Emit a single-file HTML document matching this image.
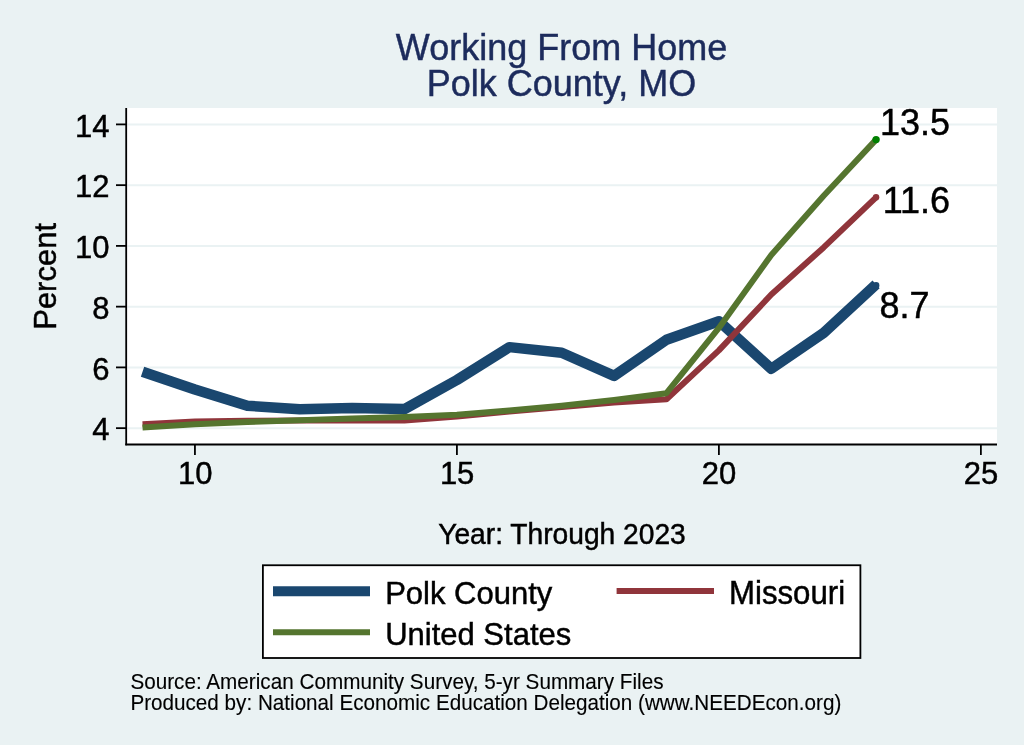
<!DOCTYPE html>
<html><head><meta charset="utf-8"><style>
html,body{margin:0;padding:0;background:#eaf2f3;width:1024px;height:745px;overflow:hidden}
svg{display:block;will-change:transform}
text{font-family:"Liberation Sans",sans-serif;stroke:currentColor;stroke-width:0.45px}
.fn text{stroke-width:0.12px}
</style></head><body>
<svg width="1024" height="745" viewBox="0 0 1024 745">
<rect width="1024" height="745" fill="#eaf2f3"/>
<rect x="126" y="108" width="871" height="336.5" fill="#fff"/>
<line x1="127.5" x2="997" y1="428.15" y2="428.15" stroke="#eaf2f3" stroke-width="2"/><line x1="127.5" x2="997" y1="367.40" y2="367.40" stroke="#eaf2f3" stroke-width="2"/><line x1="127.5" x2="997" y1="306.65" y2="306.65" stroke="#eaf2f3" stroke-width="2"/><line x1="127.5" x2="997" y1="245.90" y2="245.90" stroke="#eaf2f3" stroke-width="2"/><line x1="127.5" x2="997" y1="185.15" y2="185.15" stroke="#eaf2f3" stroke-width="2"/><line x1="127.5" x2="997" y1="124.40" y2="124.40" stroke="#eaf2f3" stroke-width="2"/>
<g fill="#1c2b5c" color="#1c2b5c">
<text transform="translate(561.5,60) scale(1,1.04)" font-size="36" text-anchor="middle">Working From Home</text>
<text transform="translate(561.5,96) scale(1,1.04)" font-size="36" text-anchor="middle">Polk County, MO</text>
</g>
<g fill="#000">
<line x1="116" x2="126" y1="428.15" y2="428.15" stroke="#000" stroke-width="1.8"/><line x1="116" x2="126" y1="367.40" y2="367.40" stroke="#000" stroke-width="1.8"/><line x1="116" x2="126" y1="306.65" y2="306.65" stroke="#000" stroke-width="1.8"/><line x1="116" x2="126" y1="245.90" y2="245.90" stroke="#000" stroke-width="1.8"/><line x1="116" x2="126" y1="185.15" y2="185.15" stroke="#000" stroke-width="1.8"/><line x1="116" x2="126" y1="124.40" y2="124.40" stroke="#000" stroke-width="1.8"/><text transform="translate(109.6,440.25) scale(1,1.04)" font-size="31" text-anchor="end">4</text><text transform="translate(109.6,379.50) scale(1,1.04)" font-size="31" text-anchor="end">6</text><text transform="translate(109.6,318.75) scale(1,1.04)" font-size="31" text-anchor="end">8</text><text transform="translate(109.6,258.00) scale(1,1.04)" font-size="31" text-anchor="end">10</text><text transform="translate(109.6,197.25) scale(1,1.04)" font-size="31" text-anchor="end">12</text><text transform="translate(109.6,136.50) scale(1,1.04)" font-size="31" text-anchor="end">14</text>
<line x1="194.93" x2="194.93" y1="444" y2="455" stroke="#000" stroke-width="1.8"/><line x1="456.91" x2="456.91" y1="444" y2="455" stroke="#000" stroke-width="1.8"/><line x1="718.89" x2="718.89" y1="444" y2="455" stroke="#000" stroke-width="1.8"/><line x1="980.87" x2="980.87" y1="444" y2="455" stroke="#000" stroke-width="1.8"/><text transform="translate(195.13,484.2) scale(1,1.04)" font-size="31" text-anchor="middle">10</text><text transform="translate(457.11,484.2) scale(1,1.04)" font-size="31" text-anchor="middle">15</text><text transform="translate(719.09,484.2) scale(1,1.04)" font-size="31" text-anchor="middle">20</text><text transform="translate(981.07,484.2) scale(1,1.04)" font-size="31" text-anchor="middle">25</text>
</g>
<line x1="126.2" y1="108" x2="126.2" y2="445.3" stroke="#000" stroke-width="1.8"/>
<line x1="125.3" y1="444.5" x2="997" y2="444.5" stroke="#000" stroke-width="1.8"/>
<polyline points="142.53,371.71 194.93,389.51 247.33,405.73 299.72,409.35 352.12,408.01 404.51,409.10 456.91,380.01 509.31,347.14 561.70,352.73 614.10,375.90 666.49,339.70 718.89,321.23 771.29,368.74 823.68,332.95 876.08,284.42" fill="none" stroke="#1a476f" stroke-width="10.5" stroke-linejoin="round"/>
<circle cx="876.08" cy="285.39" r="3.3" fill="#1a476f"/>
<polyline points="142.53,424.20 194.93,421.47 247.33,420.86 299.72,420.56 352.12,420.56 404.51,420.56 456.91,416.61 509.31,411.44 561.70,406.89 614.10,402.63 666.49,399.29 718.89,350.39 771.29,294.50 823.68,247.42 876.08,197.30" fill="none" stroke="#90353b" stroke-width="6" stroke-linejoin="round"/>
<circle cx="876.08" cy="197.30" r="3.2" fill="#90353b"/>
<polyline points="142.53,427.54 194.93,424.20 247.33,422.07 299.72,420.25 352.12,418.43 404.51,416.91 456.91,414.78 509.31,410.53 561.70,405.67 614.10,399.90 666.49,393.22 718.89,327.91 771.29,255.01 823.68,195.78 876.08,139.59" fill="none" stroke="#55752f" stroke-width="6" stroke-linejoin="round"/>
<circle cx="876.08" cy="139.59" r="3.7" fill="#008000"/>
<g fill="#000">
<text transform="translate(880,135.4) scale(1,1.04)" font-size="36" text-anchor="start">13.5</text>
<text transform="translate(882.7,212.8) scale(1,1.04)" font-size="36" text-anchor="start">11.6</text>
<text transform="translate(879.5,318.3) scale(1,1.04)" font-size="36" text-anchor="start">8.7</text>
</g>
<text transform="translate(562,544.3) scale(1,1.04)" font-size="28.2" text-anchor="middle">Year: Through 2023</text>
<text transform="translate(56.3,276.4) rotate(-90) scale(1,1.04)" font-size="31" text-anchor="middle">Percent</text>
<rect x="262.9" y="565.25" width="597.5" height="92.75" fill="#fff" stroke="#000" stroke-width="1.8"/>
<line x1="273" x2="370" y1="591.2" y2="591.2" stroke="#1a476f" stroke-width="10"/>
<line x1="616.6" x2="714" y1="591" y2="591" stroke="#90353b" stroke-width="6"/>
<line x1="273" x2="370" y1="632.2" y2="632.2" stroke="#55752f" stroke-width="6"/>
<g fill="#000">
<text transform="translate(385.2,603.7) scale(1,1.04)" font-size="31" text-anchor="start">Polk County</text>
<text transform="translate(729,604.3) scale(1,1.04)" font-size="31.2" text-anchor="start">Missouri</text>
<text transform="translate(385.2,645.3) scale(1,1.04)" font-size="31" text-anchor="start">United States</text>
</g>
<g fill="#000" class="fn">
<text transform="translate(130.4,688.8) scale(1,1.04)" font-size="20.7" text-anchor="start">Source: American Community Survey, 5-yr Summary Files</text>
<text transform="translate(130.4,709.8) scale(1,1.04)" font-size="20.67" text-anchor="start">Produced by: National Economic Education Delegation (www.NEEDEcon.org)</text>
</g>
</svg>
</body></html>
